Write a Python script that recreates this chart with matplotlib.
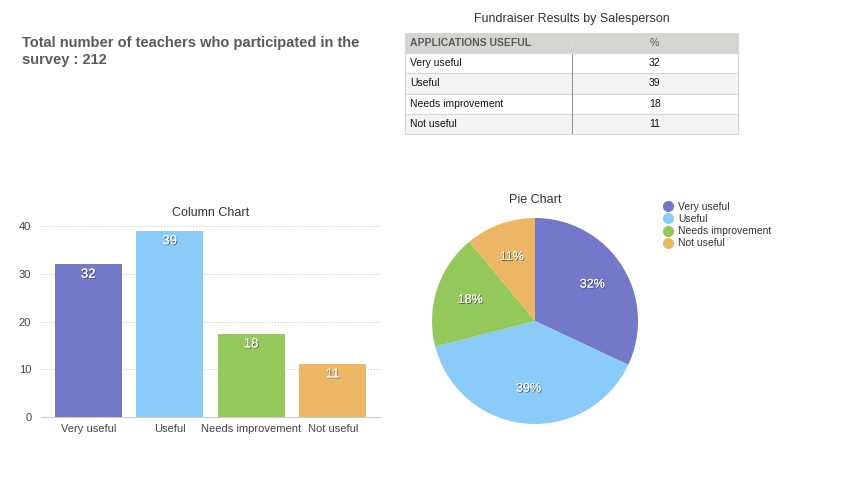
import matplotlib
matplotlib.use("Agg")
import matplotlib.pyplot as plt
import matplotlib.patheffects as pe
from matplotlib.lines import Line2D

plt.rcParams['font.family'] = ['Liberation Sans', 'DejaVu Sans']

# --- datos ---
categories = ["Very useful", "Useful", "Needs improvement", "Not useful"]
percents = [32, 39, 18, 11]
bar_heights = [32, 39, 17.4, 11.1]
colors = ["#7378c8", "#8acbfa", "#95c85a", "#edb664"]
table_header = ["APPLICATIONS USEFUL", "%"]
y_ticks = [0, 10, 20, 30, 40]

W, H = 850, 479
fig = plt.figure(figsize=(W / 100, H / 100), dpi=100)

def px_axes(x0, y0, x1, y1):
    # caja en pixeles (origen arriba-izquierda)
    return fig.add_axes([x0 / W, (H - y1) / H, (x1 - x0) / W, (y1 - y0) / H])

shadow = [pe.withSimplePatchShadow(offset=(0.6, -0.6), shadow_rgbFace='#333333', alpha=0.8), pe.Normal()]

# --- texto principal ---
fig.text(22 / W, 1 - 36 / H, "Total number of teachers who participated in the\nsurvey : 212",
         fontsize=10.5, fontweight='bold', color='#5a5a5a', va='top', ha='left', linespacing=1.25)

# --- tabla ---
fig.text(572 / W, 1 - 19 / H, "Fundraiser Results by Salesperson", fontsize=9, color='#333333',
         ha='center', va='center')
tax = px_axes(405, 33, 738, 134)
tax.axis('off')
cell_text = [[c, str(p)] for c, p in zip(categories, percents)]
row_cols = []
for i in range(len(categories)):
    fc = '#f4f4f4' if i % 2 == 1 else 'white'
    row_cols.append([fc, fc])
tbl = tax.table(cellText=cell_text, colLabels=table_header, cellColours=row_cols,
                colColours=['#d4d4d0', '#d4d4d0'], bbox=[0, 0, 1, 1],
                cellLoc='left', colLoc='left')
tbl.auto_set_font_size(False)
for (r, c), cell in tbl.get_celld().items():
    cell.set_edgecolor('#d8d8d8')
    cell.set_linewidth(0.8)
    cell.PAD = 0.03
    txt = cell.get_text()
    txt.set_fontsize(7.5)
    if c == 1:
        cell._loc = 'center'
        txt.set_ha('center')
    if r == 0:
        txt.set_color('#5a5a5a')
        if c == 0:
            txt.set_fontweight('bold')
    else:
        txt.set_color('#111111')
# separador vertical mas oscuro
tax.plot([0.5, 0.5], [0, 1 - 21 / 101], color='#999999', lw=0.8)
tax.set_xlim(0, 1)
tax.set_ylim(0, 1)

# --- grafico de columnas ---
ax = px_axes(41, 226, 380, 417)
x = range(len(categories))
ax.bar(x, bar_heights, width=0.82, color=colors)
for xi, h, p in zip(x, bar_heights, percents):
    ax.text(xi, h - 2.2, str(p), ha='center', va='center', color='white', fontsize=9.5,
            path_effects=shadow)
ax.set_xlim(-0.58, 3.58)
ax.set_ylim(0, 40)
ax.set_yticks(y_ticks)
ax.set_xticks(list(x))
ax.set_xticklabels(categories)
ax.yaxis.grid(True, linestyle=(0, (1, 2)), color='#bbbbbb', lw=0.7)
ax.set_axisbelow(True)
for s in ['top', 'right', 'left']:
    ax.spines[s].set_visible(False)
ax.spines['bottom'].set_color('#cccccc')
ax.tick_params(length=0, labelsize=8, colors='#444444')
ax.tick_params(axis='y', pad=7)
ax.tick_params(axis='x', pad=5)
ax.set_title("Column Chart", fontsize=9, color='#333333', pad=7)

# --- grafico de pastel ---
r = 103
pax = px_axes(535 - r, 321 - r, 535 + r, 321 + r)
wedges, texts, autotexts = pax.pie(percents, colors=colors, startangle=90, counterclock=False,
                                   autopct='%d%%', pctdistance=0.66, radius=1)
for t in autotexts:
    t.set_color('white')
    t.set_fontsize(9)
    t.set_path_effects(shadow)
pax.set_xlim(-1, 1)
pax.set_ylim(-1, 1)
fig.text(535 / W, 1 - 200 / H, "Pie Chart", fontsize=9, color='#333333', ha='center', va='center')

handles = [Line2D([], [], marker='o', ls='', markersize=7, markerfacecolor=c, markeredgecolor=c)
           for c in colors]
fig.legend(handles, categories, loc='upper left', bbox_to_anchor=(662 / W, 1 - 202 / H),
           frameon=False, fontsize=7.5, labelspacing=0.2, handletextpad=0.35, borderpad=0,
           borderaxespad=0, handlelength=1.2, labelcolor='#333333')

fig.savefig("out.png", dpi=100)
